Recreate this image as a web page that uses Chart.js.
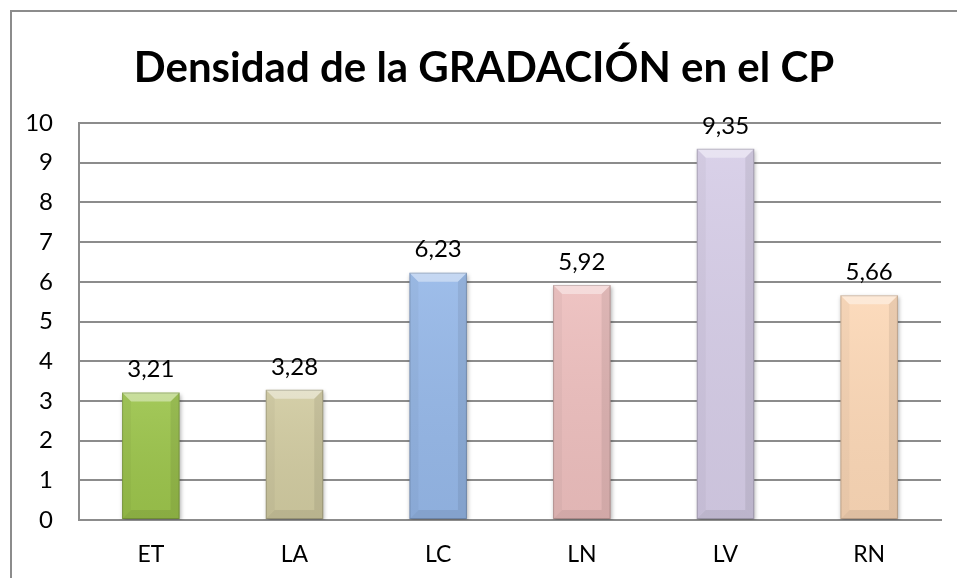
<!DOCTYPE html>
<html>
<head>
<meta charset="utf-8">
<script src="https://cdn.jsdelivr.net/npm/chart.js@4/dist/chart.umd.min.js"></script>
<style>
  html, body { margin: 0; padding: 0; background: #fff; }
  #wrap { width: 957px; height: 578px; position: relative; }
</style>
</head>
<body>
<div id="wrap"><canvas id="c" width="957" height="578"></canvas></div>
<script>
const titleText = 'Densidad de la GRADACIÓN en el CP';
const categories = ['ET', 'LA', 'LC', 'LN', 'LV', 'RN'];
const values = [3.21, 3.28, 6.23, 5.92, 9.35, 5.66];
const valueLabels = ['3,21', '3,28', '6,23', '5,92', '9,35', '5,66'];
const barColors = ['#9cc44c', '#d1cba1', '#96b8e8', '#edbfbe', '#d6cde7', '#fcd8b7'];
const yTicks = [0, 1, 2, 3, 4, 5, 6, 7, 8, 9, 10];

const FONT = 'Lato, "Open Sans", sans-serif';

const framePlugin = {
  id: 'frame',
  beforeDraw(chart) {
    const ctx = chart.ctx;
    ctx.save();
    ctx.fillStyle = '#fff';
    ctx.fillRect(0, 0, chart.width, chart.height);
    ctx.strokeStyle = '#8c8c8c';
    ctx.lineWidth = 2;
    ctx.beginPath();
    ctx.moveTo(11, chart.height);
    ctx.lineTo(11, 11);
    ctx.lineTo(chart.width, 11);
    ctx.stroke();
    // title, centred on the framed area
    ctx.fillStyle = '#000';
    ctx.font = 'bold 42px ' + FONT;
    ctx.textAlign = 'center';
    ctx.textBaseline = 'middle';
    ctx.fillText(titleText, 484, 68);
    ctx.restore();
  }
};

const bevelPlugin = {
  id: 'bevel',
  beforeDatasetsDraw(chart) {
    const ctx = chart.ctx;
    ctx.save();
    ctx.shadowColor = 'rgba(0,0,0,0.30)';
    ctx.shadowBlur = 4;
    ctx.shadowOffsetX = 1;
    ctx.shadowOffsetY = 2;
  },
  afterDatasetsDraw(chart) {
    const ctx = chart.ctx;
    ctx.restore();
    const meta = chart.getDatasetMeta(0);
    meta.data.forEach((bar, i) => {
      const p = bar.getProps(['x', 'y', 'base', 'width'], true);
      const l = p.x - p.width / 2, r = p.x + p.width / 2;
      const t = p.y, b = p.base;
      const bv = 9;
      ctx.save();
      const g = ctx.createLinearGradient(0, t, 0, b);
      g.addColorStop(0, 'rgba(255,255,255,0.08)');
      g.addColorStop(1, 'rgba(0,0,0,0.05)');
      ctx.fillStyle = g;
      ctx.fillRect(l, t, r - l, b - t);
      ctx.fillStyle = 'rgba(255,255,255,0.40)';
      ctx.beginPath();
      ctx.moveTo(l, t); ctx.lineTo(r, t); ctx.lineTo(r - bv, t + bv); ctx.lineTo(l + bv, t + bv); ctx.closePath();
      ctx.fill();
      ctx.fillStyle = 'rgba(0,0,0,0.03)';
      ctx.beginPath();
      ctx.moveTo(l, t); ctx.lineTo(l + bv, t + bv); ctx.lineTo(l + bv, b - bv); ctx.lineTo(l, b); ctx.closePath();
      ctx.fill();
      ctx.fillStyle = 'rgba(0,0,0,0.07)';
      ctx.beginPath();
      ctx.moveTo(r, t); ctx.lineTo(r - bv, t + bv); ctx.lineTo(r - bv, b - bv); ctx.lineTo(r, b); ctx.closePath();
      ctx.fill();
      ctx.fillStyle = 'rgba(0,0,0,0.07)';
      ctx.beginPath();
      ctx.moveTo(l, b); ctx.lineTo(r, b); ctx.lineTo(r - bv, b - bv); ctx.lineTo(l + bv, b - bv); ctx.closePath();
      ctx.fill();
      ctx.strokeStyle = 'rgba(0,0,0,0.18)';
      ctx.lineWidth = 1;
      ctx.strokeRect(l + 0.5, t + 0.5, r - l - 1, b - t - 1);
      ctx.restore();

      ctx.save();
      ctx.fillStyle = '#000';
      ctx.font = '24px ' + FONT;
      ctx.textAlign = 'center';
      ctx.textBaseline = 'middle';
      ctx.fillText(valueLabels[i], p.x, t - 23);
      ctx.restore();
    });
  }
};

new Chart(document.getElementById('c'), {
  type: 'bar',
  data: {
    labels: categories,
    datasets: [{
      data: values,
      backgroundColor: barColors,
      borderWidth: 0,
      categoryPercentage: 1.0,
      barPercentage: 0.4
    }]
  },
  options: {
    responsive: false,
    animation: false,
    devicePixelRatio: 1,
    layout: { padding: { left: 0, right: 16, top: 123, bottom: 0 } },
    plugins: {
      legend: { display: false },
      tooltip: { enabled: false },
      title: { display: false }
    },
    scales: {
      x: {
        grid: { display: false, drawTicks: false },
        border: { display: true, color: '#8c8c8c', width: 2 },
        ticks: { color: '#000', font: { family: FONT, size: 23 }, padding: 21 },
        afterFit(scale) { scale.height = 58; }
      },
      y: {
        min: 0, max: 10,
        afterBuildTicks(scale) { scale.ticks = yTicks.map(v => ({ value: v })); },
        grid: { color: '#8c8c8c', lineWidth: 2, drawTicks: false },
        border: { display: true, color: '#8c8c8c', width: 2 },
        ticks: { color: '#000', font: { family: FONT, size: 24 }, padding: 26 },
        afterFit(scale) { scale.width = 79; }
      }
    }
  },
  plugins: [framePlugin, bevelPlugin]
});
</script>
</body>
</html>
